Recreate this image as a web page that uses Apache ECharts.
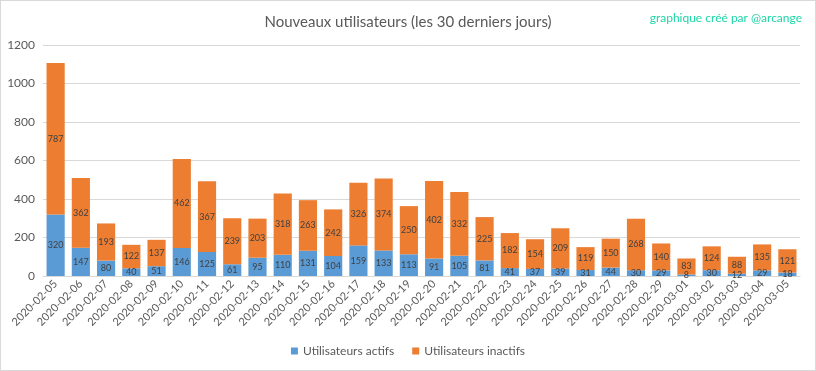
<!DOCTYPE html>
<html><head><meta charset="utf-8">
<script src="https://cdn.jsdelivr.net/npm/echarts@6/dist/echarts.min.js"></script>
<style>
html,body{margin:0;padding:0;background:#fff;}
#c{width:814px;height:369px;border:1px solid #d9d9d9;}
</style></head>
<body><div id="c"></div>
<script>
const categories = ["2020-02-05","2020-02-06","2020-02-07","2020-02-08","2020-02-09","2020-02-10","2020-02-11","2020-02-12","2020-02-13","2020-02-14","2020-02-15","2020-02-16","2020-02-17","2020-02-18","2020-02-19","2020-02-20","2020-02-21","2020-02-22","2020-02-23","2020-02-24","2020-02-25","2020-02-26","2020-02-27","2020-02-28","2020-02-29","2020-03-01","2020-03-02","2020-03-03","2020-03-04","2020-03-05"];
const actifs = [320,147,80,40,51,146,125,61,95,110,131,104,159,133,113,91,105,81,41,37,39,31,44,30,29,8,30,12,29,18];
const inactifs = [787,362,193,122,137,462,367,239,203,318,263,242,326,374,250,402,332,225,182,154,209,119,150,268,140,83,124,88,135,121];
const yTicks = [0,200,400,600,800,1000,1200];

const FONT = 'Lato, "Open Sans", sans-serif';
const chart = echarts.init(document.getElementById('c'), null, {renderer:'canvas'});
const lbl = {show:true, position:'inside', color:'#404040', fontSize:9, fontFamily:FONT};
chart.setOption({
  animation:false,
  title:[{text:'Nouveaux utilisateurs (les 30 derniers jours)', left:'center', top:9,
    textStyle:{color:'#595959', fontSize:15, fontWeight:'normal', fontFamily:FONT}},
    {text:'graphique créé par @arcange', right:8, top:6,
    textStyle:{color:'#1ed6a6', fontSize:12, fontWeight:'normal', fontFamily:FONT}}],
  legend:{bottom:8, left:'center', itemWidth:7, itemHeight:7, icon:'rect', itemGap:18,
    textStyle:{color:'#595959', fontSize:12, fontFamily:FONT},
    data:['Utilisateurs actifs','Utilisateurs inactifs']},
  grid:{left:42, right:15, top:44, bottom:94, containLabel:false},
  xAxis:{type:'category', data:categories,
    axisLine:{lineStyle:{color:'#d9d9d9'}}, axisTick:{show:false},
    axisLabel:{rotate:45, color:'#595959', fontSize:11, fontFamily:FONT, interval:0, margin:6}},
  yAxis:{type:'value', min:0, max:1200, interval:200,
    axisLine:{show:false}, axisTick:{show:false},
    splitLine:{lineStyle:{color:'#d9d9d9'}},
    axisLabel:{color:'#595959', fontSize:12, fontFamily:FONT, margin:8,
      formatter:v=>yTicks.includes(v)?String(v):''}},
  series:[
    {name:'Utilisateurs actifs', type:'bar', stack:'t', data:actifs, barCategoryGap:'28%',
     itemStyle:{color:'#5b9bd5'}, label:lbl},
    {name:'Utilisateurs inactifs', type:'bar', stack:'t', data:inactifs, barCategoryGap:'28%',
     itemStyle:{color:'#ed7d31'}, label:lbl}
  ]
});
</script></body></html>
